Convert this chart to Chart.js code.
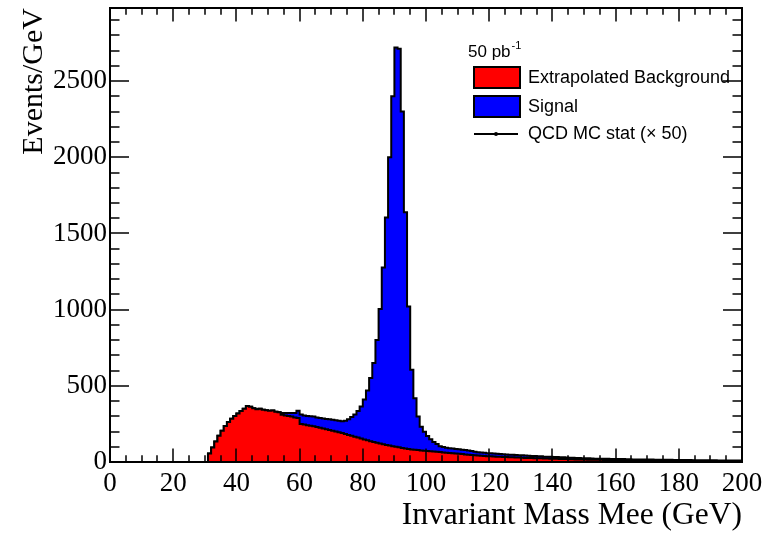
<!DOCTYPE html>
<html>
<head>
<meta charset="utf-8">
<script src="https://cdn.jsdelivr.net/npm/chart.js@4.4.0/dist/chart.umd.min.js"></script>
<style>
  html, body { margin: 0; padding: 0; background: #fff; }
</style>
</head>
<body>
<canvas id="chart" width="774" height="535"></canvas>
<script>
// 1 GeV bins, first bin is [30,31)
const massStart = 30;

const background = [
  0, 55, 95, 135, 172, 205, 236, 262, 284, 302,
  318, 334, 350, 368, 362, 352, 346, 350, 343, 340,
  336, 338, 330, 326, 310, 306, 302, 298, 292, 288,
  250, 246, 242, 238, 234, 230, 225, 220, 215, 210,
  205, 200, 195, 190, 184, 178, 172, 166, 160, 154,
  148, 142, 136, 131, 126, 121, 116, 112, 108, 104,
  100, 96, 92, 88, 85, 82, 80, 78, 76, 74,
  72, 70, 69, 67, 65, 63, 61, 59, 57, 55,
  54, 52, 50, 48, 46, 44, 42, 41, 40, 38,
  37, 36, 35, 34, 33, 32, 31, 31, 30, 29,
  28, 27, 27, 26, 25, 25, 24, 23, 23, 22,
  21, 21, 20, 20, 19, 18, 18, 17, 17, 16,
  16, 15, 15, 14, 14, 14, 13, 13, 13, 12,
  12, 12, 12, 11, 11, 11, 11, 10, 10, 10,
  10, 10, 9, 9, 9, 9, 9, 9, 8, 8,
  8, 8, 8, 8, 8, 7, 7, 7, 7, 7,
  7, 7, 6, 6, 6, 6, 6, 6, 6, 6
];

const signal = [
  0, 0, 0, 0, 0, 0, 0, 0, 0, 0,
  0, 0, 0, 0, 0, 0, 0, 0, 0, 0,
  0, 0, 0, 0, 12, 16, 20, 24, 30, 48,
  62, 60, 60, 62, 64, 62, 63, 66, 68, 70,
  72, 74, 76, 78, 86, 102, 123, 146, 175, 211,
  262, 328, 416, 519, 674, 884, 1160, 1493, 1892, 2296,
  2620, 2616, 2208, 1552, 935, 523, 339, 220, 156, 125,
  99, 79, 63, 51, 39, 35, 32, 31, 31, 31,
  29, 28, 28, 27, 26, 24, 22, 21, 20, 20,
  20, 19, 19, 18, 18, 18, 17, 16, 16, 16,
  16, 15, 14, 14, 14, 13, 13, 12, 12, 12,
  12, 11, 11, 11, 11, 10, 10, 10, 10, 9,
  9, 9, 8, 8, 8, 8, 8, 8, 7, 7,
  7, 7, 7, 7, 7, 6, 6, 6, 6, 6,
  6, 6, 6, 5, 5, 5, 5, 5, 5, 5,
  5, 5, 5, 5, 4, 4, 4, 4, 4, 4,
  4, 4, 4, 4, 4, 4, 4, 4, 4, 4
];

const legendHeader = '50 pb';
const legendHeaderSup = '-1';
const legendItems = ['Extrapolated Background', 'Signal', 'QCD MC stat (\u00d7 50)'];

const xMin = 0, xMax = 200, xMinorStep = 5, xMajorStep = 20;
const yMin = 0, yMax = 2980, yMinorStep = 100, yMajorStep = 500;

// histogram -> stepped line points at the bin edges
function histPoints(values) {
  const pts = values.map((v, i) => ({ x: massStart + i, y: v }));
  pts.push({ x: massStart + values.length, y: values[values.length - 1] });
  return pts;
}
const total = background.map((b, i) => b + signal[i]);

function majorTicks(min, max, step) {
  const out = [];
  for (let v = min; v <= max; v += step) out.push({ value: v });
  return out;
}

// ROOT style frame: ticks pointing inward on all four sides
const frameTicks = {
  id: 'frameTicks',
  afterDatasetsDraw(chart) {
    const { ctx, chartArea: a, scales: { x, y } } = chart;
    ctx.save();
    ctx.strokeStyle = '#000';
    ctx.lineWidth = 1.5;
    ctx.beginPath();
    for (let v = xMin; v <= xMax; v += xMinorStep) {
      const px = Math.round(x.getPixelForValue(v));
      const len = v % xMajorStep === 0 ? 13.6 : 6.8;
      ctx.moveTo(px, a.bottom); ctx.lineTo(px, a.bottom - len);
      ctx.moveTo(px, a.top); ctx.lineTo(px, a.top + len);
    }
    for (let v = yMin; v <= yMax; v += yMinorStep) {
      const py = Math.round(y.getPixelForValue(v));
      const len = v % yMajorStep === 0 ? 19 : 9.5;
      ctx.moveTo(a.left, py); ctx.lineTo(a.left + len, py);
      ctx.moveTo(a.right, py); ctx.lineTo(a.right - len, py);
    }
    ctx.stroke();
    ctx.lineWidth = 2;
    ctx.strokeRect(a.left, a.top, a.right - a.left, a.bottom - a.top);
    ctx.restore();
  }
};

const rootLegend = {
  id: 'rootLegend',
  afterDraw(chart) {
    const ctx = chart.ctx;
    const sans = '"Liberation Sans", Arial, sans-serif';
    ctx.save();
    ctx.fillStyle = '#000';
    ctx.textBaseline = 'middle';
    ctx.font = '17px ' + sans;
    ctx.fillText(legendHeader, 468, 52);
    const w = ctx.measureText(legendHeader).width;
    ctx.font = '11px ' + sans;
    ctx.fillText(legendHeaderSup, 468 + w + 1, 46);

    ctx.font = '18px ' + sans;
    const boxes = [['#ff0000', 67], ['#0000ff', 96]];
    boxes.forEach(([c, top], i) => {
      ctx.fillStyle = c;
      ctx.fillRect(474, top, 46, 21);
      ctx.strokeStyle = '#000';
      ctx.lineWidth = 2;
      ctx.strokeRect(474, top, 46, 21);
      ctx.fillStyle = '#000';
      ctx.fillText(legendItems[i], 528, top + 11);
    });
    ctx.beginPath();
    ctx.lineWidth = 2;
    ctx.moveTo(474, 134); ctx.lineTo(518, 134);
    ctx.stroke();
    ctx.beginPath();
    ctx.arc(496, 134, 2, 0, Math.PI * 2);
    ctx.fill();
    ctx.fillText(legendItems[2], 528, 134);
    ctx.restore();
  }
};

const serif = '"Liberation Serif", "Times New Roman", serif';

new Chart(document.getElementById('chart'), {
  type: 'line',
  data: {
    datasets: [
      {
        label: 'Extrapolated Background',
        data: histPoints(background),
        stepped: true,
        borderColor: '#000',
        borderWidth: 2,
        backgroundColor: '#ff0000',
        fill: 'origin',
        pointRadius: 0
      },
      {
        label: 'Signal',
        data: histPoints(total),
        stepped: true,
        borderColor: '#000',
        borderWidth: 2,
        backgroundColor: '#0000ff',
        fill: 'origin',
        pointRadius: 0
      }
    ]
  },
  options: {
    responsive: false,
    animation: false,
    layout: { padding: { left: 0, right: 32, top: 8, bottom: 0 } },
    plugins: {
      legend: { display: false },
      tooltip: { enabled: false }
    },
    scales: {
      x: {
        type: 'linear',
        min: xMin,
        max: xMax,
        grid: { display: false, drawTicks: false },
        border: { display: false },
        afterBuildTicks: s => { s.ticks = majorTicks(xMin, xMax, xMajorStep); },
        ticks: {
          autoSkip: false,
          maxRotation: 0,
          padding: 6,
          color: '#000',
          font: { family: serif, size: 27 },
          callback: v => String(v)
        },
        title: {
          display: true,
          text: 'Invariant Mass Mee (GeV)',
          align: 'end',
          color: '#000',
          font: { family: serif, size: 31.5 },
          padding: { top: 0, bottom: 0 }
        },
        afterFit: s => { s.height = 73; s.paddingLeft = 0; s.paddingRight = 0; }
      },
      y: {
        min: yMin,
        max: yMax,
        grid: { display: false, drawTicks: false },
        border: { display: false },
        afterBuildTicks: s => { s.ticks = majorTicks(yMin, yMax, yMajorStep); },
        ticks: {
          autoSkip: false,
          padding: 3,
          color: '#000',
          font: { family: serif, size: 27 },
          callback: v => String(v)
        },
        title: {
          display: true,
          text: 'Events/GeV',
          align: 'end',
          color: '#000',
          font: { family: serif, size: 30 },
          padding: { top: 16, bottom: 0 }
        },
        afterFit: s => { s.width = 110; s.paddingTop = 0; s.paddingBottom = 0; }
      }
    }
  },
  plugins: [frameTicks, rootLegend]
});
</script>
</body>
</html>
